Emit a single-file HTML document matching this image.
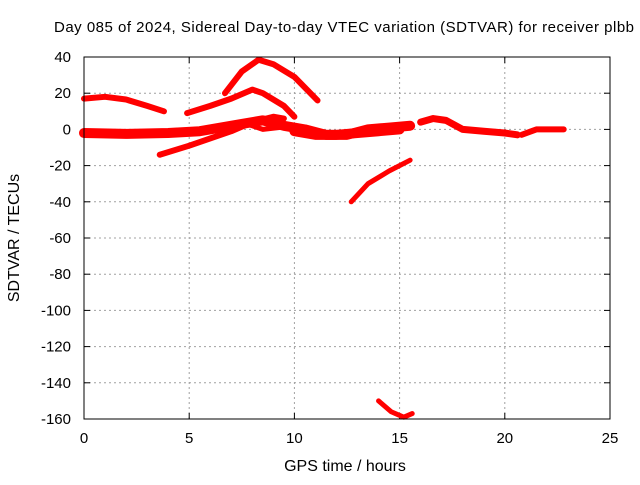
<!DOCTYPE html>
<html><head><meta charset="utf-8"><style>
body{margin:0;background:#fff}
svg text{font-family:"Liberation Sans",sans-serif;font-size:15px;fill:#000}
</style></head><body>
<svg width="640" height="480" id="c">
<text x="344" y="32" text-anchor="middle" textLength="580">Day 085 of 2024, Sidereal Day-to-day VTEC variation (SDTVAR) for receiver plbb</text>
<text x="345" y="471" text-anchor="middle" style="font-size:16px">GPS time / hours</text>
<text transform="translate(19,238) rotate(-90)" text-anchor="middle" style="font-size:16px">SDTVAR / TECUs</text>
<g id="grid"></g><g id="ticks"></g><g id="series"></g>
<rect x="84" y="57" width="526" height="362" fill="none" stroke="#000" stroke-width="1"/>
</svg>
<script>
const xTicks=[0,5,10,15,20,25];
const yTicks=[40,20,0,-20,-40,-60,-80,-100,-120,-140,-160];
const seg1=[[0,17],[1,18],[2,16.5],[3,13],[3.8,10]];
const seg2=[[0,-2],[2,-2.5],[4,-2],[5.5,-1],[6.5,1],[7.5,3],[8.5,5],[9.5,2],[10.5,0],[11.5,-3],[12.5,-3],[13.5,0],[14.5,1],[15.5,2]];
const seg2b=[[10,-1],[11,-3],[12,-3],[13,-2],[14,-1],[15,0]];
const seg3=[[3.6,-14],[5,-9],[6,-5],[7,-1],[8,4],[9,7],[9.5,6]];
const seg4=[[4.9,9],[6,13],[7,17],[8,22],[8.5,20],[9.5,13],[10,7]];
const seg5=[[6.7,20],[7.5,32],[8.3,38.5],[9,36],[10,29],[11.1,16]];
const seg6=[[7.5,4],[8.5,0],[10,2],[11,-1]];
const seg7=[[16,4],[16.6,6],[17.2,5],[18,0],[19,-1],[20,-2],[20.6,-3]];
const seg8=[[20.8,-3],[21.5,0],[22.8,0]];
const seg9=[[12.7,-40],[13.5,-30],[14.5,-23],[15.5,-17]];
const seg10=[[14,-150],[14.6,-156],[15.2,-159],[15.6,-157]];
const segs=[seg1,seg2,seg2b,seg3,seg4,seg5,seg6,seg7,seg8,seg9,seg10];
const widths=[6,10,10,6,6,6,5,7,6,5,5];
const X=h=>84+h*526/25, Y=v=>57+(40-v)*362/200;
const NS='http://www.w3.org/2000/svg';
const g=document.getElementById('grid'),t=document.getElementById('ticks'),s=document.getElementById('series');
function mk(tag,a,p){const e=document.createElementNS(NS,tag);for(const k in a)e.setAttribute(k,a[k]);p.appendChild(e);return e;}
xTicks.forEach(v=>{const x=X(v);
 if(v>0&&v<25){const l=mk('line',{x1:x,x2:x,y1:57,y2:419,stroke:'#a0a0a0','stroke-dasharray':'2,3'},g);
 
 }
 const tx=mk('text',{x:x,y:443,'text-anchor':'middle'},t);tx.textContent=v;
 
 
 mk('line',{x1:x,x2:x,y1:419,y2:413,stroke:'#000'},t);mk('line',{x1:x,x2:x,y1:57,y2:63,stroke:'#000'},t);});
yTicks.forEach(v=>{const y=Y(v);
 if(v<40&&v>-160){const l=mk('line',{x1:84,x2:610,y1:y,y2:y,stroke:'#a0a0a0','stroke-dasharray':'2,3'},g);
 
 }
 const tx=mk('text',{x:71,y:y+5,'text-anchor':'end'},t);tx.textContent=v;
 
 
 mk('line',{x1:84,x2:90,y1:y,y2:y,stroke:'#000'},t);mk('line',{x1:610,x2:604,y1:y,y2:y,stroke:'#000'},t);});
segs.forEach((sg,i)=>{const p=mk('polyline',{points:sg.map(d=>X(d[0])+','+Y(d[1])).join(' '),fill:'none',stroke:'#ff0000','stroke-width':widths[i],'stroke-linejoin':'round','stroke-linecap':'round'},s);
 
 });
</script>
</body></html>
